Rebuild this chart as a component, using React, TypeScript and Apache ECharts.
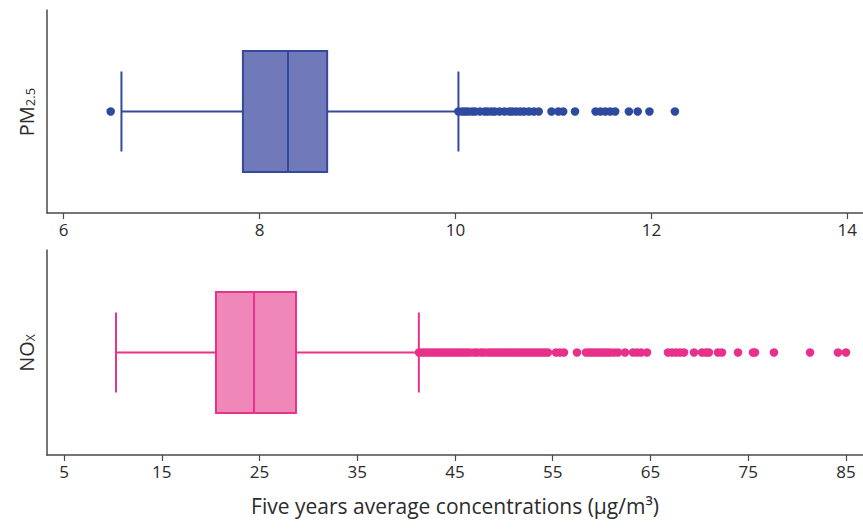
import React, { useEffect, useRef } from "react";
import * as echarts from "echarts";

// PM2.5 box stats: [q1, median, q3, whiskerLow, whiskerHigh]
const pmStats = [7.83, 8.29, 8.69, 6.59, 10.03];
const pmOutliers = [
  6.48, 10.03, 10.07, 10.1, 10.13, 10.17, 10.2, 10.25, 10.3, 10.33, 10.37, 10.4,
  10.45, 10.5, 10.55, 10.58, 10.62, 10.66, 10.7, 10.75, 10.8, 10.85, 10.98,
  11.05, 11.1, 11.22, 11.43, 11.48, 11.53, 11.58, 11.63, 11.77, 11.86, 11.98,
  12.24,
];
// NOx box stats: [q1, median, q3, whiskerLow, whiskerHigh]
const noxStats = [20.55, 24.44, 28.73, 10.32, 41.3];
const noxOutliers = [
  41.32, 41.62, 41.93, 42.24, 42.54, 42.85, 43.16, 43.47, 43.77, 44.08, 44.39,
  44.69, 45.0, 45.31, 45.61, 45.92, 46.23, 46.53, 46.94, 47.25, 47.66, 47.97,
  48.38, 48.68, 48.99, 49.3, 49.6, 49.91, 50.22, 50.52, 50.83, 51.14, 51.44,
  51.75, 52.06, 52.37, 52.67, 52.98, 53.29, 53.59, 53.9, 54.21, 54.51, 55.33,
  55.74, 56.15, 57.48, 58.4, 58.71, 59.01, 59.32, 59.63, 59.94, 60.24, 60.55,
  60.86, 61.27, 61.68, 62.39, 63.21, 63.62, 64.03, 64.64, 66.79, 67.2, 67.61,
  68.02, 68.43, 69.45, 70.27, 70.68, 70.98, 71.9, 72.31, 73.95, 75.49, 75.69,
  77.63, 81.32, 84.18, 85.0,
];
const pmTicks = [6, 8, 10, 12, 14];
const noxTicks = [5, 15, 25, 35, 45, 55, 65, 75, 85];
const xTitle = "Five years average concentrations (µg/m³)";

const AXIS_COLOR = "#4a4a4a";
const FONT = "Open Sans";

function makeBox(stroke: string, fill: string) {
  return (params: any, api: any) => {
    const q1 = api.value(0);
    const med = api.value(1);
    const q3 = api.value(2);
    const lo = api.value(3);
    const hi = api.value(4);
    const yv = api.value(5);
    const pQ1 = api.coord([q1, yv]);
    const pMed = api.coord([med, yv]);
    const pQ3 = api.coord([q3, yv]);
    const pLo = api.coord([lo, yv]);
    const pHi = api.coord([hi, yv]);
    const cy = pQ1[1];
    const hb = 60.5;
    const hc = 40;
    const ls = { stroke, lineWidth: 2 };
    return {
      type: "group",
      children: [
        { type: "line", shape: { x1: pLo[0], y1: cy, x2: pQ1[0], y2: cy }, style: ls },
        { type: "line", shape: { x1: pQ3[0], y1: cy, x2: pHi[0], y2: cy }, style: ls },
        { type: "line", shape: { x1: pLo[0], y1: cy - hc, x2: pLo[0], y2: cy + hc }, style: ls },
        { type: "line", shape: { x1: pHi[0], y1: cy - hc, x2: pHi[0], y2: cy + hc }, style: ls },
        {
          type: "rect",
          shape: { x: pQ1[0], y: cy - hb, width: pQ3[0] - pQ1[0], height: 2 * hb },
          style: { fill, stroke, lineWidth: 2 },
        },
        { type: "line", shape: { x1: pMed[0], y1: cy - hb, x2: pMed[0], y2: cy + hb }, style: ls },
      ],
    };
  };
}

export default function App() {
  const ref = useRef<HTMLDivElement>(null);
  useEffect(() => {
    if (!ref.current) return;
    const chart = echarts.init(ref.current, null, { renderer: "svg" });
    const axisCommon = {
      type: "value",
      axisLine: { show: true, lineStyle: { color: AXIS_COLOR, width: 1.5 } },
      axisTick: { show: true, length: 6, lineStyle: { color: AXIS_COLOR, width: 1.2 } },
      splitLine: { show: false },
    };
    const yCommon = {
      type: "value",
      min: 0,
      max: 1,
      axisLine: { show: true, onZero: false, lineStyle: { color: AXIS_COLOR, width: 1.5 } },
      axisTick: { show: false },
      axisLabel: { show: false },
      splitLine: { show: false },
    };
    const labelStyle = { color: "#2b2b2b", fontSize: 17, fontFamily: FONT, margin: 8 };
    chart.setOption({
      animation: false,
      backgroundColor: "#ffffff",
      grid: [
        { left: 47, right: 0, top: 10, height: 203 },
        { left: 47, right: 0, top: 250, height: 205 },
      ],
      xAxis: [
        {
          ...axisCommon,
          gridIndex: 0,
          min: 5.83,
          max: 14.16,
          axisTick: { ...axisCommon.axisTick, customValues: pmTicks },
          axisLabel: { ...labelStyle, customValues: pmTicks },
        },
        {
          ...axisCommon,
          gridIndex: 1,
          min: 3.26,
          max: 86.74,
          axisTick: { ...axisCommon.axisTick, customValues: noxTicks },
          axisLabel: { ...labelStyle, customValues: noxTicks },
          name: xTitle,
          nameLocation: "middle",
          nameGap: 40,
          nameTextStyle: { color: "#2b2b2b", fontSize: 21, fontFamily: FONT },
        },
      ],
      yAxis: [
        { ...yCommon, gridIndex: 0 },
        { ...yCommon, gridIndex: 1 },
      ],
      series: [
        {
          type: "custom",
          xAxisIndex: 0,
          yAxisIndex: 0,
          renderItem: makeBox("#34499c", "#7079b9"),
          data: [[...pmStats, 0.5]],
          z: 2,
        },
        {
          type: "scatter",
          xAxisIndex: 0,
          yAxisIndex: 0,
          symbolSize: 8.5,
          itemStyle: { color: "#2e4a9f", opacity: 1 },
          data: pmOutliers.map((v) => [v, 0.5]),
          z: 3,
        },
        {
          type: "custom",
          xAxisIndex: 1,
          yAxisIndex: 1,
          renderItem: makeBox("#e6338c", "#ef88b8"),
          data: [[...noxStats, 0.5]],
          z: 2,
        },
        {
          type: "scatter",
          xAxisIndex: 1,
          yAxisIndex: 1,
          symbolSize: 8.5,
          itemStyle: { color: "#e8308a", opacity: 1 },
          data: noxOutliers.map((v) => [v, 0.5]),
          z: 3,
        },
      ],
      graphic: [
        {
          type: "text",
          x: 24,
          y: 112,
          rotation: Math.PI / 2,
          style: {
            text: "{m|PM}{s|2.5}",
            align: "center",
            verticalAlign: "middle",
            rich: {
              m: { fontSize: 20, fontFamily: FONT, fill: "#2b2b2b", lineHeight: 24, verticalAlign: "bottom" },
              s: { fontSize: 13, fontFamily: FONT, fill: "#2b2b2b", lineHeight: 24, verticalAlign: "bottom", padding: [7, 0, 0, 0] },
            },
          },
        },
        {
          type: "text",
          x: 24,
          y: 353,
          rotation: Math.PI / 2,
          style: {
            text: "{m|NO}{s|X}",
            align: "center",
            verticalAlign: "middle",
            rich: {
              m: { fontSize: 20, fontFamily: FONT, fill: "#2b2b2b", lineHeight: 24, verticalAlign: "bottom" },
              s: { fontSize: 12, fontFamily: FONT, fill: "#2b2b2b", lineHeight: 24, verticalAlign: "bottom", padding: [7, 0, 0, 0] },
            },
          },
        },
      ],
    });
    return () => chart.dispose();
  }, []);
  return <div ref={ref} style={{ width: 863, height: 529, position: "absolute", left: 0, top: 0 }} />;
}
